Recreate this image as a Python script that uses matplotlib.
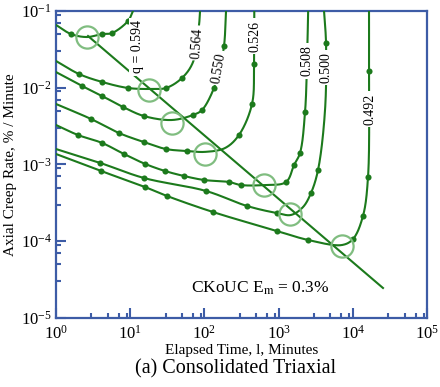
import numpy as np
import matplotlib
matplotlib.use("Agg")
import matplotlib.pyplot as plt
from matplotlib.ticker import LogLocator, NullFormatter, LogFormatterSciNotation

plt.rcParams['font.family'] = ['Liberation Serif', 'DejaVu Serif']
plt.rcParams['mathtext.fontset'] = 'stix'
plt.rcParams['axes.unicode_minus'] = False

GREEN = '#1c7a1c'
CIRCLE = '#80bd80'
BLUE = '#3d5ca6'

# stress level q of each creep test
q_labels = ["q = 0.594", "0.564", "0.550", "0.526", "0.508", "0.500", "0.492"]

# fitted trend of each creep-rate record: elapsed time (min) and rate (%/min)
trend_t = [
    [1.0, 1.59, 2.62, 4.17, 5.69, 9.34, 10.9],
    [1.0, 2.04, 4.17, 9.34, 18.5, 30.4, 49.9, 70.2, 84.6, 87.3],
    [1.0, 2.24, 4.17, 8.0, 15.3, 36.6, 70.2, 92.9, 134.7, 160, 183.7, 195.5],
    [1.0, 2.96, 7.06, 15.3, 30.4, 58.3, 102, 190, 292, 438, 466, 470],
    [1.0, 1.98, 4.17, 8.25, 15.8, 29.4, 53.1, 98.8, 215, 311, 636, 1259, 1614, 1942, 2270, 2415, 2500],
    [1.0, 3.92, 15.3, 105, 375, 951, 1469, 2133, 2735, 3398, 4223, 4354, 4093],
    [1.0, 4.04, 15.8, 31.3, 131, 951, 2489, 7150, 10070, 13700, 16030, 16530, 16530],
]
trend_r = [
    [0.0658, 0.0501, 0.0458, 0.0501, 0.0516, 0.0741, 0.1],
    [0.0223, 0.0151, 0.0119, 0.00993, 0.00964, 0.00993, 0.0134, 0.0216, 0.0658, 0.1],
    [0.0160, 0.01055, 0.00782, 0.00562, 0.00428, 0.0038, 0.00442, 0.00513, 0.00993, 0.0181, 0.0350, 0.1],
    [0.00614, 0.00392, 0.00257, 0.00196, 0.00159, 0.0015, 0.00146, 0.00164, 0.00242, 0.00614, 0.0204, 0.1],
    [0.00327, 0.00242, 0.00191, 0.00137, 0.00102, 0.000823, 0.000708, 0.000628, 0.000591,
     0.000540, 0.00054, 0.000591, 0.000985, 0.00141, 0.00483, 0.0223, 0.1],
    [0.00159, 0.00105, 0.000667, 0.000452, 0.000288, 0.000233, 0.00022, 0.000279, 0.000426,
     0.000848, 0.00513, 0.0383, 0.1],
    [0.00137, 0.000823, 0.000509, 0.000389, 0.00024, 0.000136, 0.000104, 0.0000893, 0.000107,
     0.000213, 0.000687, 0.0165, 0.1],
]

# measured creep rates
pts_t = [
    [1.59, 4.17, 5.69, 9.34],
    [2.04, 4.17, 9.34, 30.4, 49.9],
    [2.24, 4.17, 8.0, 15.3, 70.2, 92.9, 134.7, 183.7],
    [2.96, 7.06, 15.3, 30.4, 58.3, 292, 438, 466],
    [1.98, 4.17, 8.25, 15.8, 29.4, 53.1, 98.8, 215, 311, 1259, 1614, 1942, 2270],
    [3.92, 15.3, 105, 375, 951, 2735, 3398, 4354],
    [4.04, 15.8, 31.3, 131, 951, 2489, 10070, 13700, 16030, 16530],
]
pts_r = [
    [0.0501, 0.0501, 0.0516, 0.0741],
    [0.0151, 0.0119, 0.00993, 0.00993, 0.0134],
    [0.01055, 0.00782, 0.00562, 0.00428, 0.00442, 0.00513, 0.00993, 0.0350],
    [0.00392, 0.00257, 0.00196, 0.00159, 0.0015, 0.00242, 0.00614, 0.0204],
    [0.00242, 0.00191, 0.00137, 0.00102, 0.000823, 0.000708, 0.000628, 0.000591, 0.000540,
     0.000591, 0.000985, 0.00141, 0.00483],
    [0.00105, 0.000667, 0.000452, 0.000288, 0.000233, 0.000426, 0.000848, 0.0383],
    [0.000823, 0.000509, 0.000389, 0.00024, 0.000136, 0.000104, 0.000107, 0.000213, 0.000687, 0.0165],
]

# minimum creep rate of each test
min_t = [2.62, 17.9, 36.6, 102, 636, 1425, 7150]
min_r = [0.0458, 0.00935, 0.00348, 0.00137, 0.00054, 0.000226, 0.0000867]

# line through the minimum rates
line_t = [2.70, 25500]
line_r = [0.0472, 0.0000246]

# positions of the q labels on the rising branches
label_t = [12.4, 79.5, 157, 481, 2415, 4354, 17060]
label_r = [0.034, 0.0383, 0.0181, 0.0472, 0.0223, 0.0181, 0.00528]
label_rot = [90, 86, 80, 90, 90, 90, 90]


def catmull_rom(xs, ys, n=40):
    """Centripetal Catmull-Rom curve through the given nodes."""
    P = np.column_stack([xs, ys])
    P = np.vstack([2 * P[0] - P[1], P, 2 * P[-1] - P[-2]])
    out = []
    for i in range(1, len(P) - 2):
        p0, p1, p2, p3 = P[i - 1], P[i], P[i + 1], P[i + 2]
        t0 = 0.0
        t1 = t0 + max(np.linalg.norm(p1 - p0), 1e-6) ** 0.5
        t2 = t1 + max(np.linalg.norm(p2 - p1), 1e-6) ** 0.5
        t3 = t2 + max(np.linalg.norm(p3 - p2), 1e-6) ** 0.5
        tt = np.linspace(t1, t2, n)[:, None]
        a1 = (t1 - tt) / (t1 - t0) * p0 + (tt - t0) / (t1 - t0) * p1
        a2 = (t2 - tt) / (t2 - t1) * p1 + (tt - t1) / (t2 - t1) * p2
        a3 = (t3 - tt) / (t3 - t2) * p2 + (tt - t2) / (t3 - t2) * p3
        b1 = (t2 - tt) / (t2 - t0) * a1 + (tt - t0) / (t2 - t0) * a2
        b2 = (t3 - tt) / (t3 - t1) * a2 + (tt - t1) / (t3 - t1) * a3
        c = (t2 - tt) / (t2 - t1) * b1 + (tt - t1) / (t2 - t1) * b2
        out.append(c)
    c = np.vstack(out)
    return c[:, 0], c[:, 1]


fig = plt.figure(figsize=(4.40, 3.87), dpi=100)
ax = fig.add_axes([0.1273, 0.1783, 0.8432, 0.7933])
ax.set_xscale('log')
ax.set_yscale('log')
ax.set_xlim(1, 1e5)
ax.set_ylim(1e-5, 1e-1)

for tx, rx in zip(trend_t, trend_r):
    lx, ly = catmull_rom(np.log10(tx), np.log10(rx))
    ax.plot(10 ** lx, 10 ** ly, color=GREEN, lw=1.5, zorder=3, clip_on=True)

for tx, rx in zip(pts_t, pts_r):
    ax.plot(tx, rx, 'o', color=GREEN, ms=4.4, mec='none', zorder=4)

ax.plot(line_t, line_r, color=GREEN, lw=1.5, zorder=3)
ax.plot(min_t, min_r, 'o', ms=16, mfc='none', mec=CIRCLE, mew=1.6, zorder=5)

for txt, tx, rx, rot in zip(q_labels, label_t, label_r, label_rot):
    ax.text(tx, rx, txt, rotation=rot, ha='center', va='center', fontsize=10,
            rotation_mode='anchor', zorder=6,
            bbox=dict(boxstyle='square,pad=0.15', fc='white', ec='none'))

ax.text(65.9, 2.12e-5, r'CKoUC E$_{\mathrm{m}}$ = 0.3%', fontsize=12.5,
        ha='left', va='baseline')

for sp in ax.spines.values():
    sp.set_color(BLUE)
    sp.set_linewidth(1.6)

for axis in (ax.xaxis, ax.yaxis):
    axis.set_major_locator(LogLocator(base=10, numticks=10))
    axis.set_minor_locator(LogLocator(base=10, subs=(3, 5, 7, 9), numticks=10))
    axis.set_major_formatter(LogFormatterSciNotation())
    axis.set_minor_formatter(NullFormatter())

ax.tick_params(which='both', direction='in', color=BLUE, width=1.5,
               top=False, right=False, labelsize=12)
ax.tick_params(which='major', length=7)
ax.tick_params(which='minor', length=3.8)
ax.tick_params(axis='x', pad=5)
ax.tick_params(axis='y', pad=3)

ax.set_ylabel('Axial Creep Rate, % / Minute', fontsize=11, labelpad=3)
ax.set_xlabel('Elapsed Time, l, Minutes', fontsize=11, labelpad=1)
fig.text(0.535, 0.0465, '(a) Consolidated Triaxial', fontsize=14.5,
         ha='center', va='center')

fig.savefig('out.png', dpi=100)
